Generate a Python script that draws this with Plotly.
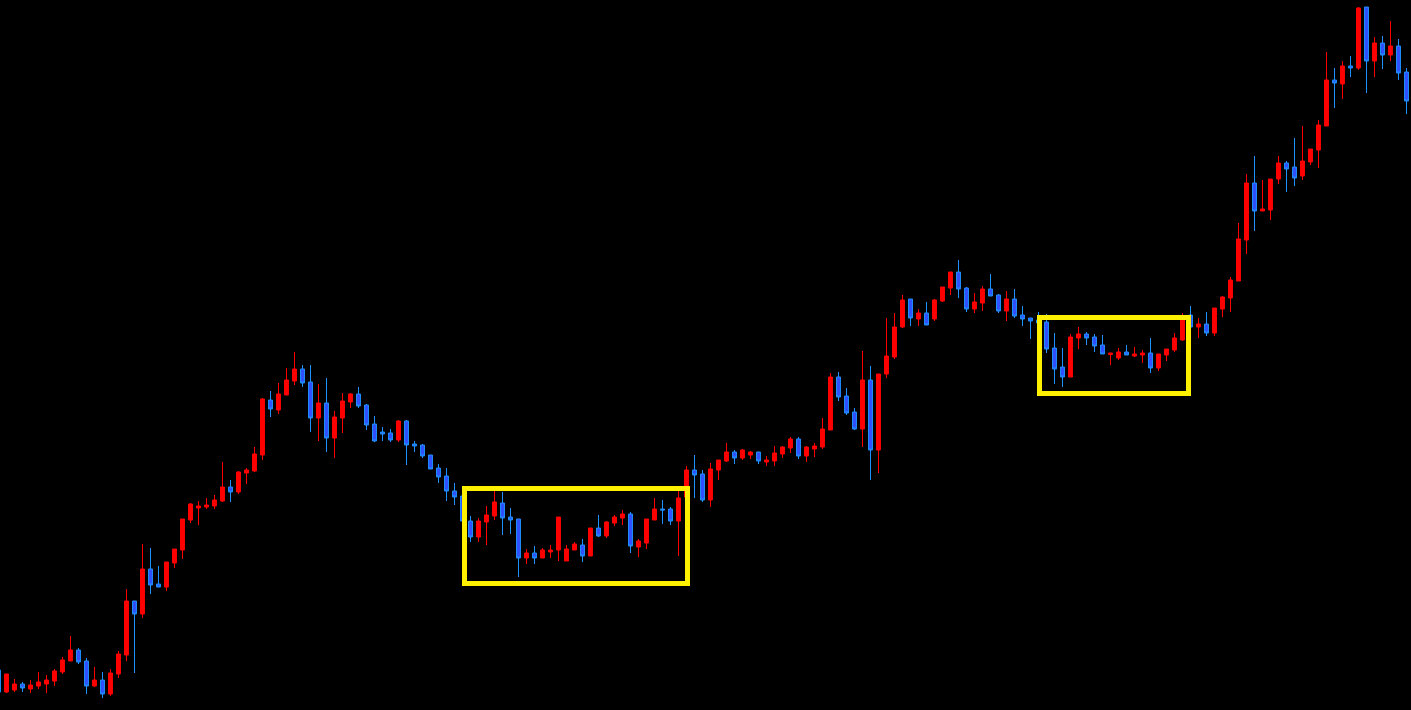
import plotly.graph_objects as go

# Candle index (bar number), one per session
bars = list(range(-1, 176))

opens = [40, 18, 20, 26, 21, 24, 26, 29, 38, 49, 60, 49, 24, 30, 16, 36, 55, 109, 96, 141,
         126, 123, 147, 160, 190, 202, 203, 204, 209, 223, 218, 237, 239, 255, 310, 300, 315, 329, 341, 328,
         292, 307, 272, 292, 308, 316, 305, 286, 278, 277, 270, 289, 266, 265, 255, 242, 234, 219, 214, 189,
         173, 188, 194, 207, 193, 191, 152, 157, 152, 158, 160, 149, 160, 165, 154, 182, 174, 187, 192, 196,
         163, 167, 190, 201, 201, 189, 213, 240, 236, 210, 240, 249, 258, 252, 255, 258, 248, 249, 256, 262,
         271, 254, 261, 263, 280, 333, 314, 298, 281, 330, 260, 336, 353, 383, 411, 391, 397, 391, 409, 422,
         438, 422, 401, 407, 421, 415, 399, 411, 395, 392, 390, 388, 362, 343, 333, 372, 376, 373, 365, 355.5,
         352, 358, 354, 355, 357, 342, 355, 360, 370, 395, 383, 386, 377, 401, 412, 429, 470, 527, 499, 500,
         531, 547, 543, 534, 548, 560, 584, 630, 626, 644, 642, 703, 649, 667, 655, 664, 638]
highs = [40, 36, 31, 28, 30, 38, 35, 41, 53, 74, 62, 52, 43, 38, 41, 59, 121, 109, 166, 162,
         144, 148, 161, 191, 207, 209, 212, 215, 248, 230, 239, 242, 263, 312, 319, 327, 342, 358, 345, 345,
         326, 332, 299, 317, 317, 323, 306, 294, 283, 281, 290, 290, 269, 266, 255, 246, 242, 227, 214, 194,
         192, 204, 219, 218, 202, 191, 161, 164, 162, 165, 193, 165, 168, 171, 182, 195, 189, 195, 200, 198,
         171, 191, 212, 210, 203, 219, 244, 255, 240, 247, 250, 267, 260, 261, 259, 258, 254, 264, 264, 273,
         273, 264, 267, 292, 337, 338, 322, 302, 359, 344, 336, 392, 397, 415, 411, 401, 408, 411, 423, 438,
         450, 423, 417, 424, 436, 416, 419, 421, 404, 392, 398, 396, 377, 362, 376, 383, 378, 376, 375, 357,
         362, 365, 363, 360, 372, 356, 361, 377, 397, 404, 392, 398, 402, 414, 433, 487, 536, 554, 530, 531,
         554, 549, 572, 584, 561, 590, 658, 642, 649, 654, 703, 703, 673, 674, 689, 671, 642]
lows = [18, 17, 18, 18, 17, 21, 17, 24, 36, 49, 46, 16, 23, 12, 14, 32, 49, 37, 92, 116,
        123, 119, 142, 151, 187, 185, 201, 201, 208, 208, 216, 226, 238, 250, 293, 296, 315, 325, 323, 278,
        269, 258, 252, 277, 302, 302, 280, 268, 269, 268, 268, 245, 258, 252, 241, 227, 209, 205, 187, 168,
        168, 165, 190, 175, 176, 133, 146, 146, 152, 152, 149, 149, 160, 148, 154, 173, 172, 184, 185, 157,
        153, 161, 190, 186, 185, 154, 213, 212, 208, 203, 230, 248, 246, 250, 251, 246, 244, 244, 252, 257,
        251, 248, 253, 261, 280, 309, 295, 280, 263, 230, 237, 332, 351, 382, 384, 384, 385, 389, 408, 415,
        412, 398, 397, 399, 414, 397, 389, 392, 384, 371, 387, 357, 326, 323, 333, 361, 365, 358, 356, 345,
        350, 355, 353, 347, 337, 339, 349, 358, 369, 383, 372, 374, 374, 393, 398, 429, 456, 479, 499, 490,
        526, 518, 524, 530, 545, 542, 584, 602, 611, 633, 640, 617, 633, 641, 649, 630, 596]
closes = [18, 36, 26, 22, 25, 28, 30, 39, 50, 60, 48, 24, 30, 16, 37, 56, 109, 96, 141, 125,
          123, 148, 161, 191, 206, 204, 205, 210, 223, 218, 238, 240, 256, 311, 301, 316, 330, 341, 327, 292,
          307, 272, 293, 309, 316, 304, 285, 269, 276, 270, 289, 265, 264, 254, 241, 233, 219, 213, 189, 173,
          189, 195, 208, 192, 190, 152, 157, 152, 160, 160, 193, 161, 166, 154, 182, 174, 188, 193, 196, 164,
          169, 191, 201, 200, 189, 212, 240, 235, 210, 241, 250, 258, 252, 260, 258, 249, 250, 257, 263, 271,
          254, 263, 264, 281, 333, 313, 297, 281, 330, 260, 336, 354, 383, 410, 392, 397, 385, 410, 423, 438,
          421, 401, 408, 421, 414, 399, 411, 394, 391, 389, 387, 361, 341, 333, 373, 376, 372, 364, 356, 357,
          358, 355, 356, 357, 342, 356, 361, 372, 391, 383, 386, 377, 402, 413, 430, 471, 527, 499, 501, 531,
          547, 541, 532, 549, 561, 585, 630, 627, 644, 642, 702, 649, 667, 655, 664, 637, 609]

# Highlighted consolidation zones: (x start, x end, low, high) in bar / price units
zone_x0 = [57.25, 129.125]
zone_x1 = [85.125, 147.75]
zone_y0 = [126.5, 316.5]
zone_y1 = [221.5, 392.5]

UP_COLOR = "#FF0000"
DOWN_FILL = "#3050FF"
DOWN_LINE = "#1E90FF"
ZONE_COLOR = "#FFF000"

fig = go.Figure(go.Candlestick(
    x=bars, open=opens, high=highs, low=lows, close=closes,
    increasing=dict(fillcolor=UP_COLOR, line=dict(color=UP_COLOR, width=1)),
    decreasing=dict(fillcolor=DOWN_FILL, line=dict(color=DOWN_LINE, width=1)),
    whiskerwidth=0, hoverinfo="skip", showlegend=False,
))

for a, b, c, d in zip(zone_x0, zone_x1, zone_y0, zone_y1):
    fig.add_shape(type="rect", x0=a, x1=b, y0=c, y1=d, xref="x", yref="y",
                  line=dict(color=ZONE_COLOR, width=5), fillcolor="rgba(0,0,0,0)",
                  layer="above")

fig.update_layout(
    width=1411, height=710,
    margin=dict(l=0, r=0, t=0, b=0),
    paper_bgcolor="#000000", plot_bgcolor="#000000",
    xaxis=dict(range=[-0.8125, 175.5625], visible=False, showgrid=False,
               zeroline=False, rangeslider=dict(visible=False), fixedrange=True),
    yaxis=dict(range=[0, 710], visible=False, showgrid=False, zeroline=False,
               fixedrange=True),
    showlegend=False,
)

fig.write_html("out.html", config={"displayModeBar": False},
               post_script="document.body.style.margin='0';document.body.style.overflow='hidden';")
